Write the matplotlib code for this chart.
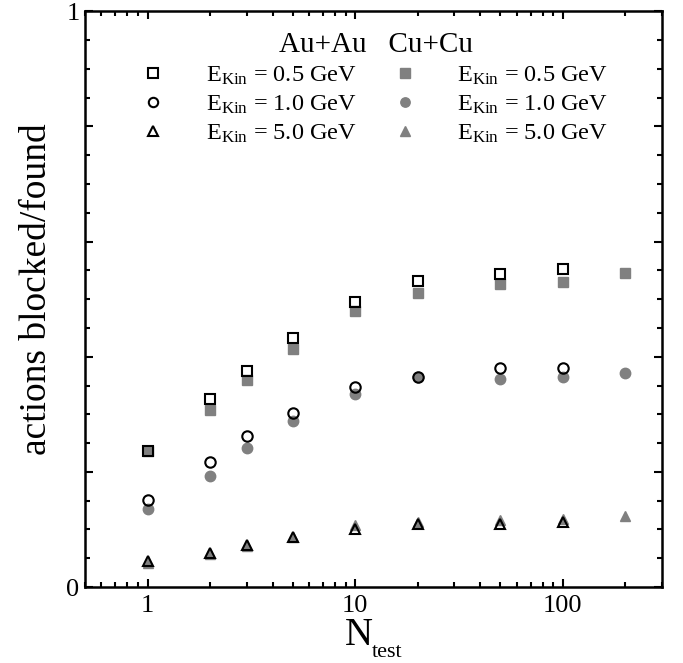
import matplotlib
matplotlib.use("Agg")
import matplotlib.pyplot as plt
from matplotlib.ticker import NullFormatter
import numpy as np

plt.rcParams['font.family'] = ['Liberation Serif', 'DejaVu Serif']
plt.rcParams['mathtext.fontset'] = 'custom'
plt.rcParams['mathtext.rm'] = 'Liberation Serif'
plt.rcParams['mathtext.it'] = 'Liberation Serif:italic'

# test particle numbers
n_test = [1, 2, 3, 5, 10, 20, 50, 100, 200]
n_test_au = [1, 2, 3, 5, 10, 20, 50, 100]

# Au+Au (open symbols)
au_05 = [0.236, 0.326, 0.375, 0.433, 0.495, 0.531, 0.543, 0.552]
au_10 = [0.152, 0.218, 0.262, 0.303, 0.348, 0.364, 0.380, 0.380]
au_50 = [0.045, 0.059, 0.073, 0.087, 0.100, 0.110, 0.110, 0.113]

# Cu+Cu (filled symbols)
cu_05 = [0.236, 0.307, 0.360, 0.414, 0.480, 0.510, 0.526, 0.530, 0.546]
cu_10 = [0.135, 0.193, 0.241, 0.288, 0.335, 0.364, 0.362, 0.365, 0.372]
cu_50 = [0.041, 0.058, 0.072, 0.087, 0.107, 0.113, 0.117, 0.118, 0.124]

labels = [r"E$_{\mathrm{Kin}}$ = 0.5 GeV",
          r"E$_{\mathrm{Kin}}$ = 1.0 GeV",
          r"E$_{\mathrm{Kin}}$ = 5.0 GeV"]

y_ticks = [0, 0.2, 0.4, 0.6, 0.8, 1.0]
y_ticklabels = ["0", "", "", "", "", "1"]

fig = plt.figure(figsize=(6.83, 6.63), dpi=100)
ax = fig.add_axes([0.1245, 0.1146, 0.8447, 0.8684])

gray = "#808080"
# filled first, open ones drawn on top
h_cu = []
for vals, m in [(cu_05, "s"), (cu_10, "o"), (cu_50, "^")]:
    h, = ax.plot(n_test, vals, linestyle="none", marker=m, ms=7.5,
                 mfc=gray, mec=gray, mew=1.0, zorder=2)
    h_cu.append(h)
h_au = []
for vals, m in [(au_05, "s"), (au_10, "o"), (au_50, "^")]:
    h, = ax.plot(n_test_au, vals, linestyle="none", marker=m, ms=7.5,
                 mfc="none", mec="black", mew=1.5, zorder=3)
    h_au.append(h)

ax.set_xscale("log")
ax.set_xlim(0.5, 300)
ax.set_ylim(0, 1)

ax.set_xticks([1, 10, 100])
ax.set_xticklabels(["1", "10", "100"])
ax.xaxis.set_minor_formatter(NullFormatter())
ax.set_yticks(y_ticks)
ax.set_yticklabels(y_ticklabels)
ax.set_yticks(np.arange(0, 1.0001, 0.05), minor=True)

ax.tick_params(which="both", direction="in", top=True, right=True, width=1.5, labelsize=19)
ax.tick_params(which="major", length=6)
ax.tick_params(axis="x", which="major", pad=6)
ax.tick_params(axis="y", which="major", pad=4)
ax.tick_params(which="minor", length=3.5)
for sp in ax.spines.values():
    sp.set_linewidth(1.8)

ax.set_ylabel("actions blocked/found", fontsize=27)
ax.yaxis.set_label_coords(-0.054, 0.517)
# x label: large N with a small "test" subscript
ax.text(0.4506, -0.1009, "N", transform=ax.transAxes, fontsize=28,
        ha="left", va="baseline")
ax.text(0.4974, -0.121, "test", transform=ax.transAxes, fontsize=16,
        ha="left", va="baseline")

leg = ax.legend(h_au + h_cu, labels + labels, ncol=2, frameon=False,
                fontsize=17.5, title="Au+Au   Cu+Cu", title_fontsize=21,
                loc="upper left", bbox_to_anchor=(0.1014, 0.964),
                borderpad=0, borderaxespad=0, handlelength=0.8,
                handletextpad=1.75, columnspacing=1.6, labelspacing=0.27,
                markerscale=0.9)

plt.savefig("out.png", dpi=100)
